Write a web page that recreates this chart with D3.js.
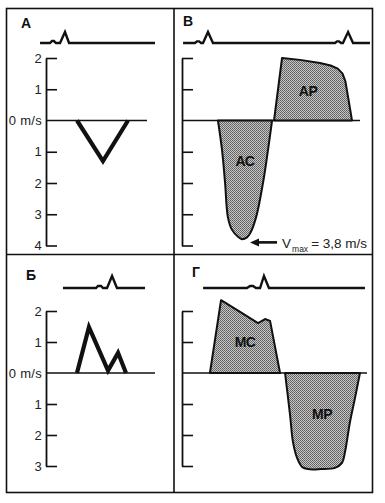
<!DOCTYPE html>
<html><head><meta charset="utf-8">
<script src="https://cdn.jsdelivr.net/npm/d3@7"></script>
<style>
html,body{margin:0;padding:0;background:#fff;}
svg{display:block;font-family:"Liberation Sans",Arial,sans-serif;}
</style></head><body>
<svg id="c" width="385" height="503"></svg>
<script>
// ---------- DATA ----------
const panelLetters = ["А", "В", "Б", "Г"];
const ticksTop = [2, 1, 0, -1, -2, -3, -4];
const ticksBottom = [2, 1, 0, -1, -2, -3];
const zeroLabel = "0 m/s";

// ECG traces: [time (0-100 of panel), relative amplitude]
const ecgA = [[-5.9,0],[4,0],[5.9,0.18],[7.9,0.18],[9.9,0],[13.9,0],[18.8,1],[22.8,0],[107.9,0]];
const ecgB = [[0.6,0],[7.3,0],[8.4,0.15],[9.6,0.15],[10.7,0],[11.8,0],[14.6,1],[17.4,0],
              [86.0,0],[87.1,0.15],[88.2,0.15],[89.3,0],[90.4,0],[93.3,1],[96.1,0],[105.6,0]];
const ecgC = [[15.6,0],[45.9,0],[47.7,0.17],[50.5,0.17],[52.3,0],[56.0,0],[60.6,1],[65.1,0],[90.8,0]];
const ecgD = [[11.4,0],[35.1,0],[36.8,0.17],[38.4,0.17],[40.0,0],[42.2,0],[44.3,1],[47.0,0],[98.9,0]];

// Doppler velocity traces: [time, velocity m/s] (positive = towards transducer)
const flowA = [[30.7,0],[56.4,-1.3],[81.2,0]];
const flowB_AC = [[20.2,0],[22.5,-0.95],[24.2,-2.0],[25.8,-3.1],[28.1,-3.5],[31.5,-3.72],[33.7,-3.8],
                  [36.5,-3.74],[38.2,-3.62],[41.6,-3.1],[45.5,-2.0],[48.3,-0.95],[50.6,0]];
const flowB_AP = [[51.7,0],[56.2,2.0],[66.3,1.94],[77.5,1.84],[83.5,1.76],[87.5,1.66],[90.2,1.5],[91.8,1.25],[93.6,0.65],[95.5,0]];
const flowC = [[28.4,0],[39.4,1.48],[56.9,0.08],[66.1,0.65],[73.4,0]];
const flowD_MC = [[15.1,0],[21.1,2.35],[31.4,1.97],[41.1,1.61],[44.9,1.74],[47.6,1.68],[53.0,0]];
const flowD_MP = [[55.7,0],[58.4,-1.35],[60.0,-2.23],[62.2,-2.74],[64.9,-3.03],[68.1,-3.1],[75.0,-3.1],
                  [82.7,-3.06],[86.5,-2.9],[88.1,-2.55],[90.8,-1.58],[93.5,-0.81],[96.2,0]];

const lesionLabels = [
  {panel:1, text:"АС", t:35.4, v:-1.31},
  {panel:1, text:"АР", t:70.8, v:0.94},
  {panel:3, text:"МС", t:34.1, v:1.0},
  {panel:3, text:"МР", t:75.7, v:-1.32}
];
const vmax = {t0:53.4, t1:38.2, v:-3.9, value:"= 3,8 m/s"};

// ---------- LAYOUT ----------
const svg = d3.select("#c");
const defs = svg.append("defs");
const pat = defs.append("pattern").attr("id","stip").attr("width",2).attr("height",2)
  .attr("patternUnits","userSpaceOnUse");
pat.append("rect").attr("width",2).attr("height",2).attr("fill","#c6c6c6");
pat.append("rect").attr("x",0).attr("y",0).attr("width",1).attr("height",1).attr("fill","#5e5e5e");
pat.append("rect").attr("x",1).attr("y",1).attr("width",1).attr("height",1).attr("fill","#6e6e6e");

// frame
svg.append("rect").attr("x",6.5).attr("y",8.5).attr("width",366).attr("height",484)
  .attr("fill","none").attr("stroke","#111").attr("stroke-width",1.6);
svg.append("line").attr("x1",174).attr("x2",174).attr("y1",8).attr("y2",493).attr("stroke","#111").attr("stroke-width",1.6);
svg.append("line").attr("x1",6).attr("x2",373).attr("y1",254.5).attr("y2",254.5).attr("stroke","#111").attr("stroke-width",1.6);

const panels = [
  {x0:46, x1:147, yTop:58, yBot:245.5, ticks:ticksTop, labels:true, ecg:ecgA, ecgBase:43, ecgAmp:11, letter:[21,28]},
  {x0:182, x1:360, yTop:58, yBot:245.5, ticks:ticksTop, labels:false, ecg:ecgB, ecgBase:43, ecgAmp:11, letter:[183,26]},
  {x0:46, x1:155, yTop:311, yBot:466, ticks:ticksBottom, labels:true, ecg:ecgC, ecgBase:288, ecgAmp:12, letter:[26,280]},
  {x0:182, x1:367, yTop:311, yBot:466, ticks:ticksBottom, labels:false, ecg:ecgD, ecgBase:288, ecgAmp:12, letter:[192,277]}
];

panels.forEach((p, i) => {
  p.x = d3.scaleLinear().domain([0,100]).range([p.x0, p.x1]);
  p.y = d3.scaleLinear().domain([p.ticks[0], p.ticks[p.ticks.length-1]]).range([p.yTop, p.yBot]);
  p.ey = d3.scaleLinear().domain([0,1]).range([p.ecgBase, p.ecgBase - p.ecgAmp]);
  const g = svg.append("g");

  g.append("text").attr("x", p.letter[0]).attr("y", p.letter[1])
    .attr("font-size", 14).attr("font-weight", "bold").attr("fill","#111").text(panelLetters[i]);

  g.append("path").datum(p.ecg)
    .attr("d", d3.line().x(d => p.x(d[0])).y(d => p.ey(d[1])))
    .attr("fill","none").attr("stroke","#111").attr("stroke-width",2.4).attr("stroke-linejoin","miter");

  const axis = d3.axisLeft(p.y).tickValues(p.ticks).tickSizeInner(-11).tickSizeOuter(0).tickPadding(4)
    .tickFormat(d => p.labels ? (d === 0 ? zeroLabel : Math.abs(d)) : "");
  const ag = g.append("g").attr("transform", `translate(${p.x0},0)`).call(axis);
  ag.select(".domain").attr("stroke","#111").attr("stroke-width",1.8);
  ag.selectAll(".tick line").attr("stroke","#111").attr("stroke-width",1.6);
  ag.selectAll(".tick text").attr("font-size",13).attr("fill","#222")
    .attr("font-family","'Liberation Sans',Arial,sans-serif").attr("letter-spacing",0.3);
  ag.selectAll(".tick").filter(d => d === 0).select("line").remove();

  g.append("line").attr("x1", p.x(0)).attr("x2", p.x(100)).attr("y1", p.y(0)).attr("y2", p.y(0))
    .attr("stroke","#111").attr("stroke-width",1.3);
});

// thick traces (А, Б)
[[0, flowA],[2, flowC]].forEach(([i, data]) => {
  const p = panels[i];
  const ln = d3.line().x(d => p.x(d[0])).y(d => p.y(d[1]));
  svg.append("path").attr("d", ln(data))
    .attr("fill","none").attr("stroke","#111").attr("stroke-width",4.2).attr("stroke-linejoin","miter");
});

// filled envelopes (В, Г)
[[1, flowB_AC, true],[1, flowB_AP, false],[3, flowD_MC, false],[3, flowD_MP, true]].forEach(([i, data, smooth]) => {
  const p = panels[i];
  const ln = d3.line().x(d => p.x(d[0])).y(d => p.y(d[1]))
    .curve(smooth ? d3.curveCatmullRom.alpha(0.5) : d3.curveLinear);
  svg.append("path").attr("d", ln(data) + "Z")
    .attr("fill","url(#stip)").attr("stroke","#111").attr("stroke-width",2).attr("stroke-linejoin","round");
});

lesionLabels.forEach(l => {
  const p = panels[l.panel];
  svg.append("text").attr("x", p.x(l.t)).attr("y", p.y(l.v)).attr("dy","0.36em")
    .attr("text-anchor","middle").attr("font-size",14).attr("font-weight","bold").attr("fill","#111")
    .attr("letter-spacing",-0.5).text(l.text);
});

{
  const p = panels[1];
  const xt = p.x(vmax.t1), xs = p.x(vmax.t0), yy = p.y(vmax.v);
  svg.append("line").attr("x1", xs).attr("x2", xt + 7).attr("y1", yy).attr("y2", yy)
    .attr("stroke","#111").attr("stroke-width",2.6);
  svg.append("path").attr("d", `M${xt},${yy} L${xt+9},${yy-4} L${xt+9},${yy+4} Z`).attr("fill","#111");
  const t = svg.append("text").attr("x", xs + 5).attr("y", yy + 5.5).attr("font-size",13.5).attr("fill","#222");
  t.append("tspan").text("V");
  t.append("tspan").attr("font-size",8.5).attr("dy",4).attr("dx",1).text("max");
  t.append("tspan").attr("dy",-4).attr("dx",3).text(vmax.value);
}
</script>
</body></html>
